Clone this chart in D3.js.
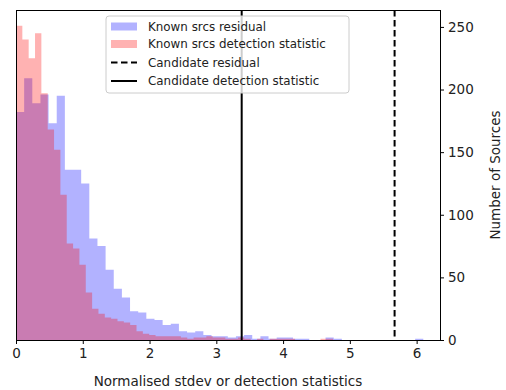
<!DOCTYPE html>
<html>
<head>
<meta charset="utf-8">
<script src="https://cdn.jsdelivr.net/npm/d3@7"></script>
<style>
  html, body { margin: 0; padding: 0; background: #fff; }
  svg text { font-family: "DejaVu Sans", sans-serif; fill: #222; }
</style>
</head>
<body>
<svg id="chart" width="506" height="390"></svg>
<script>
// Histogram counts, 50 equal bins each starting at 0
const residualRange = [0, 6.1];
const residualCounts = [
  182, 209, 189, 196, 173, 195, 136, 136, 125, 81,
  75, 56, 41, 34, 23, 22, 17, 16, 12, 13,
  7, 6, 7, 4, 3, 3, 2, 3, 4, 1,
  3, 1, 2, 2, 1, 1, 0, 0, 2, 1,
  0, 0, 0, 0, 0, 0, 0, 0, 0, 1
];
const detectionRange = [0, 4.75];
const detectionCounts = [
  251, 240, 225, 245, 197, 168, 152, 116, 77, 73,
  60, 38, 25, 21, 18, 17, 15, 14, 12, 7,
  5, 4, 3, 3, 3, 3, 2, 1, 2, 2,
  3, 2, 2, 1, 1, 2, 1, 0, 1, 0,
  1, 1, 1, 1, 0, 0, 0, 0, 1, 1
];
const candidateResidual = 5.67;
const candidateDetection = 3.38;
const xTicks = [0, 1, 2, 3, 4, 5, 6];
const yTicks = [0, 50, 100, 150, 200, 250];
const legendLabels = ["Known srcs residual", "Known srcs detection statistic",
                      "Candidate residual", "Candidate detection statistic"];

const svg = d3.select("#chart");
const mLeft = 16, mRight = 440, mTop = 10, mBottom = 340;

const x = d3.scaleLinear().domain([0, 6.35]).range([mLeft, mRight]);
const y = d3.scaleLinear().domain([0, 263.5]).range([mBottom, mTop]);

function bins(range, counts) {
  const w = (range[1] - range[0]) / counts.length;
  return counts.map((c, i) => ({ x0: range[0] + i * w, x1: range[0] + (i + 1) * w, c }));
}

// Each histogram is one stepped outline so the translucent fill has no seams
const plot = svg.append("g");
function drawHist(data, color) {
  const pts = [];
  data.forEach(d => { pts.push([d.x0, d.c]); pts.push([d.x1, d.c]); });
  const area = d3.area()
    .x(p => x(p[0]))
    .y0(y(0))
    .y1(p => y(p[1]));
  plot.append("path")
    .attr("d", area(pts))
    .attr("fill", color)
    .attr("fill-opacity", 0.3);
}
drawHist(bins(residualRange, residualCounts), "#0000ff");
drawHist(bins(detectionRange, detectionCounts), "#ff0000");

// Candidate lines
svg.append("line")
  .attr("x1", x(candidateResidual)).attr("x2", x(candidateResidual))
  .attr("y1", mTop).attr("y2", mBottom)
  .attr("stroke", "#000").attr("stroke-width", 2)
  .attr("stroke-dasharray", "6.5,3.5");
svg.append("line")
  .attr("x1", x(candidateDetection)).attr("x2", x(candidateDetection))
  .attr("y1", mTop).attr("y2", mBottom)
  .attr("stroke", "#000").attr("stroke-width", 2);

// Axes
const fs = 13.5;
const xAxis = svg.append("g").attr("transform", `translate(0,${mBottom})`)
  .call(d3.axisBottom(x).tickValues(xTicks).tickFormat(d3.format("d")).tickSize(4).tickPadding(4));
const yAxis = svg.append("g").attr("transform", `translate(${mRight},0)`)
  .call(d3.axisRight(y).tickValues(yTicks).tickFormat(d3.format("d")).tickSize(4).tickPadding(4));
[xAxis, yAxis].forEach(a => {
  a.select(".domain").remove();
  a.selectAll("line").attr("stroke", "#000").attr("stroke-width", 1);
  a.selectAll("text").style("font-size", fs + "px").attr("fill", "#222");
});

// Frame
svg.append("rect")
  .attr("x", mLeft).attr("y", mTop)
  .attr("width", mRight - mLeft).attr("height", mBottom - mTop)
  .attr("fill", "none").attr("stroke", "#000").attr("stroke-width", 1)
  .attr("shape-rendering", "crispEdges");

svg.append("text")
  .attr("x", (mLeft + mRight) / 2).attr("y", 386)
  .attr("text-anchor", "middle")
  .style("font-size", fs + "px")
  .text("Normalised stdev or detection statistics");
svg.append("text")
  .attr("transform", `translate(500,${(mTop + mBottom) / 2}) rotate(-90)`)
  .attr("text-anchor", "middle")
  .style("font-size", fs + "px")
  .text("Number of Sources");

// Legend
const lg = svg.append("g").attr("transform", "translate(106,16)");
lg.append("rect").attr("width", 243).attr("height", 77).attr("rx", 3)
  .attr("fill", "#fff").attr("fill-opacity", 0.8)
  .attr("stroke", "#ccc").attr("stroke-width", 1);
const rowY = [10.5, 28, 46.5, 65];
const lfs = 11.9;
lg.append("rect").attr("x", 5).attr("y", rowY[0] - 4).attr("width", 26).attr("height", 8)
  .attr("fill", "#0000ff").attr("fill-opacity", 0.3);
lg.append("rect").attr("x", 5).attr("y", rowY[1] - 4).attr("width", 26).attr("height", 8)
  .attr("fill", "#ff0000").attr("fill-opacity", 0.3);
lg.append("line").attr("x1", 5).attr("x2", 31).attr("y1", rowY[2]).attr("y2", rowY[2])
  .attr("stroke", "#000").attr("stroke-width", 2).attr("stroke-dasharray", "6.5,3.5");
lg.append("line").attr("x1", 5).attr("x2", 31).attr("y1", rowY[3]).attr("y2", rowY[3])
  .attr("stroke", "#000").attr("stroke-width", 2);
legendLabels.forEach((t, i) => {
  lg.append("text").attr("x", 42).attr("y", rowY[i]).attr("dy", "0.35em")
    .style("font-size", lfs + "px").text(t);
});
</script>
</body>
</html>
